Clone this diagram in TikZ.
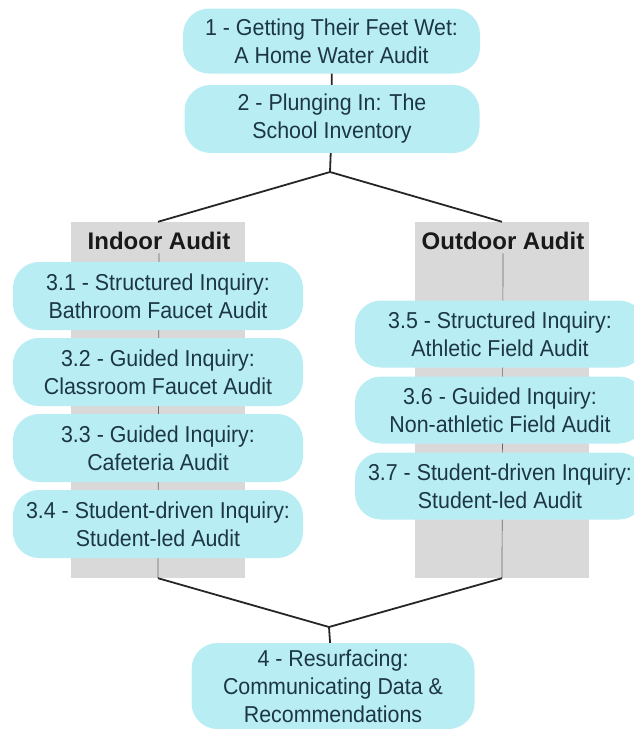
\documentclass[tikz,border=0pt]{standalone}
\usepackage{fontspec}
\setmainfont{Liberation Sans}
\newfontfamily\stagefont[FakeStretch=0.93]{Liberation Sans}
\definecolor{stagefill}{HTML}{B9EDF4}
\definecolor{stagetext}{HTML}{1C3743}
\definecolor{colgrey}{HTML}{D9D9D9}
\tikzstyle{stage} = [rectangle, rounded corners = 26pt, fill = stagefill, text = stagetext, align = center, font = \stagefont\fontsize{23}{28}\selectfont, inner sep = 0pt]
\tikzstyle{column} = [rectangle, fill = colgrey, minimum width = 174pt, minimum height = 356pt, inner sep = 0pt]
\tikzstyle{colhead} = [font = \fontsize{24}{28}\selectfont\bfseries, text = black!90]
\tikzstyle{link} = [draw = black!85, line width = 1.8pt]
\tikzstyle{spine} = [draw = black!60, line width = 0.7pt]

\begin{document}
\begin{tikzpicture}[x = 1pt, y = -1pt]
  \useasboundingbox (0, 0) rectangle (634, 729);
  % grey columns behind stage 3
  \node[column] (indoorcol) at (158, 400) {};
  \node[column] (outdoorcol) at (502, 400) {};
  \node[colhead] (indoorhead) at (159, 241) {Indoor Audit};
  \node[colhead] (outdoorhead) at (503, 241) {Outdoor Audit};
  \draw[spine] (indoorhead.south) -- (indoorcol.south);
  \draw[spine] (outdoorhead.south) -- (outdoorcol.south);
  \node[stage, minimum width = 297pt, minimum height = 65pt] (home) at (331.5, 41) {1 - Getting Their Feet Wet:\\A Home Water Audit};
  \node[stage, minimum width = 295pt, minimum height = 68pt] (school) at (332, 119) {2 - Plunging In: The\\School Inventory};
  \foreach \i\j in {1/{3.1 - Structured Inquiry:\\Bathroom Faucet Audit},
                    2/{3.2 - Guided Inquiry:\\Classroom Faucet Audit},
                    3/{3.3 - Guided Inquiry:\\Cafeteria Audit},
                    4/{3.4 - Student-driven Inquiry:\\Student-led Audit}} {
    \node[stage, minimum width = 290pt, minimum height = 68pt] (indoor\i) at (158, 220 + \i * 76) {\j};
  }
  \foreach \i\j in {5/{3.5 - Structured Inquiry:\\Athletic Field Audit},
                    6/{3.6 - Guided Inquiry:\\Non-athletic Field Audit},
                    7/{3.7 - Student-driven Inquiry:\\Student-led Audit}} {
    \node[stage, minimum width = 290pt, minimum height = 67pt] (outdoor\i) at (500, \i * 76 - 46) {\j};
  }
  \node[stage, minimum width = 283pt, minimum height = 86pt] (report) at (333, 686) {4 - Resurfacing:\\Communicating Data \&\\Recommendations};
  % split and merge
  \coordinate (split) at (330, 172);
  \coordinate (merge) at (329, 627);
  \draw[link] (home) -- (school);
  \draw[link] (school) -- (split);
  \draw[link] (indoorcol.north) -- (split) -- (outdoorcol.north);
  \draw[link] (indoorcol.south) -- (merge) -- (outdoorcol.south);
  \draw[link] (merge) -- (report);
\end{tikzpicture}
\end{document}
